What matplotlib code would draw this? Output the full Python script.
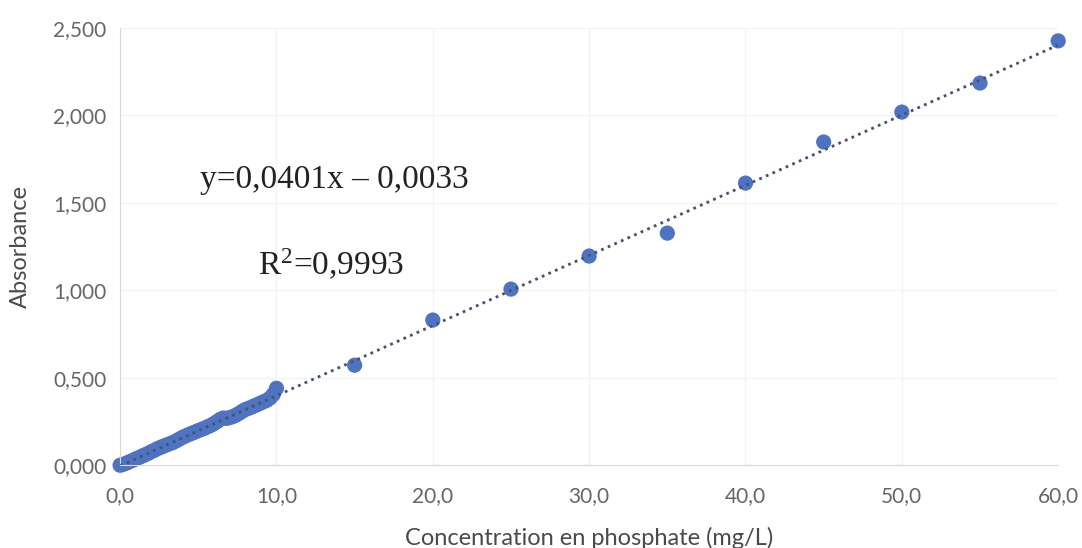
import numpy as np
import matplotlib
matplotlib.use("Agg")
import matplotlib.pyplot as plt

plt.rcParams["mathtext.fontset"] = "custom"
plt.rcParams["mathtext.rm"] = "Liberation Serif"
plt.rcParams["mathtext.it"] = "Liberation Serif:italic"

# concentration (mg/L) and measured absorbance
conc = [0.0, 0.2, 0.4, 0.6, 0.8, 1.0, 1.2, 1.4, 1.6, 1.8,
        2.0, 2.2, 2.4, 2.6, 2.8, 3.0, 3.2, 3.4, 3.6, 3.8,
        4.0, 4.2, 4.4, 4.6, 4.8, 5.0, 5.2, 5.4, 5.6, 5.8,
        6.0, 6.2, 6.4, 6.6, 6.8, 7.0, 7.2, 7.4, 7.6, 7.8,
        8.0, 8.2, 8.4, 8.6, 8.8, 9.0, 9.2, 9.4, 9.6, 9.8,
        10.0, 15.0, 20.0, 25.0, 30.0, 35.0, 40.0, 45.0, 50.0, 55.0, 60.0]
absorb = [0.000, 0.005, 0.012, 0.020, 0.028, 0.036, 0.044, 0.052, 0.060, 0.068,
          0.078, 0.086, 0.095, 0.103, 0.110, 0.117, 0.124, 0.131, 0.140, 0.150,
          0.160, 0.168, 0.176, 0.183, 0.190, 0.198, 0.205, 0.212, 0.220, 0.228,
          0.238, 0.250, 0.262, 0.270, 0.268, 0.272, 0.278, 0.286, 0.296, 0.308,
          0.318, 0.325, 0.332, 0.340, 0.348, 0.356, 0.364, 0.372, 0.385, 0.405,
          0.440, 0.572, 0.830, 1.007, 1.196, 1.327, 1.613, 1.848, 2.019, 2.185, 2.426]

# linear trendline shown on the chart
slope = 0.0401
intercept = -0.0033

xticks = [0, 10, 20, 30, 40, 50, 60]
yticks = [0, 0.5, 1.0, 1.5, 2.0, 2.5]

fig = plt.figure(figsize=(10.82, 5.48), dpi=100)
ax = fig.add_axes([0.111, 0.151, 0.867, 0.798])

xl = np.array([0, 60])
ax.plot(xl, slope * xl + intercept, linestyle=(0, (1, 1.6)), color="#44546A",
        linewidth=2, zorder=3)
ax.scatter(conc, absorb, s=120, color="#4F73C3", zorder=2, edgecolors="none",
           clip_on=False)

ax.set_xlim(0, 60)
ax.set_ylim(0, 2.5)
ax.set_xticks(xticks)
ax.set_yticks(yticks)
ax.set_xticklabels([f"{v:.1f}".replace(".", ",") for v in xticks])
ax.set_yticklabels([f"{v:.3f}".replace(".", ",") for v in yticks])
ax.tick_params(axis="x", length=0, labelsize=15, labelcolor="#666666", pad=15)
ax.tick_params(axis="y", length=0, labelsize=15, labelcolor="#666666", pad=10)
for t in ax.get_xticklabels() + ax.get_yticklabels():
    t.set_family("Lato")

ax.grid(True, color="#f3f3f3", linewidth=1)
ax.set_axisbelow(True)
for s in ["top", "right"]:
    ax.spines[s].set_visible(False)
ax.spines["left"].set_color("#d9d9d9")
ax.spines["bottom"].set_color("#d9d9d9")

ax.set_xlabel("Concentration en phosphate (mg/L)", fontsize=17, color="#4a4a4a",
              family="Lato", labelpad=15)
ax.set_ylabel("Absorbance", fontsize=17, color="#4a4a4a", family="Lato",
              labelpad=16)

ax.text(5.1, 1.63, "y=0,0401x \u2013 0,0033", fontsize=24, family="Liberation Serif",
        color="#222222", va="center")
ax.text(8.8, 1.144, r"R$^{\mathrm{2}}$=0,9993", fontsize=24, family="Liberation Serif",
        color="#222222", va="center")

fig.savefig("out.png", dpi=100)
